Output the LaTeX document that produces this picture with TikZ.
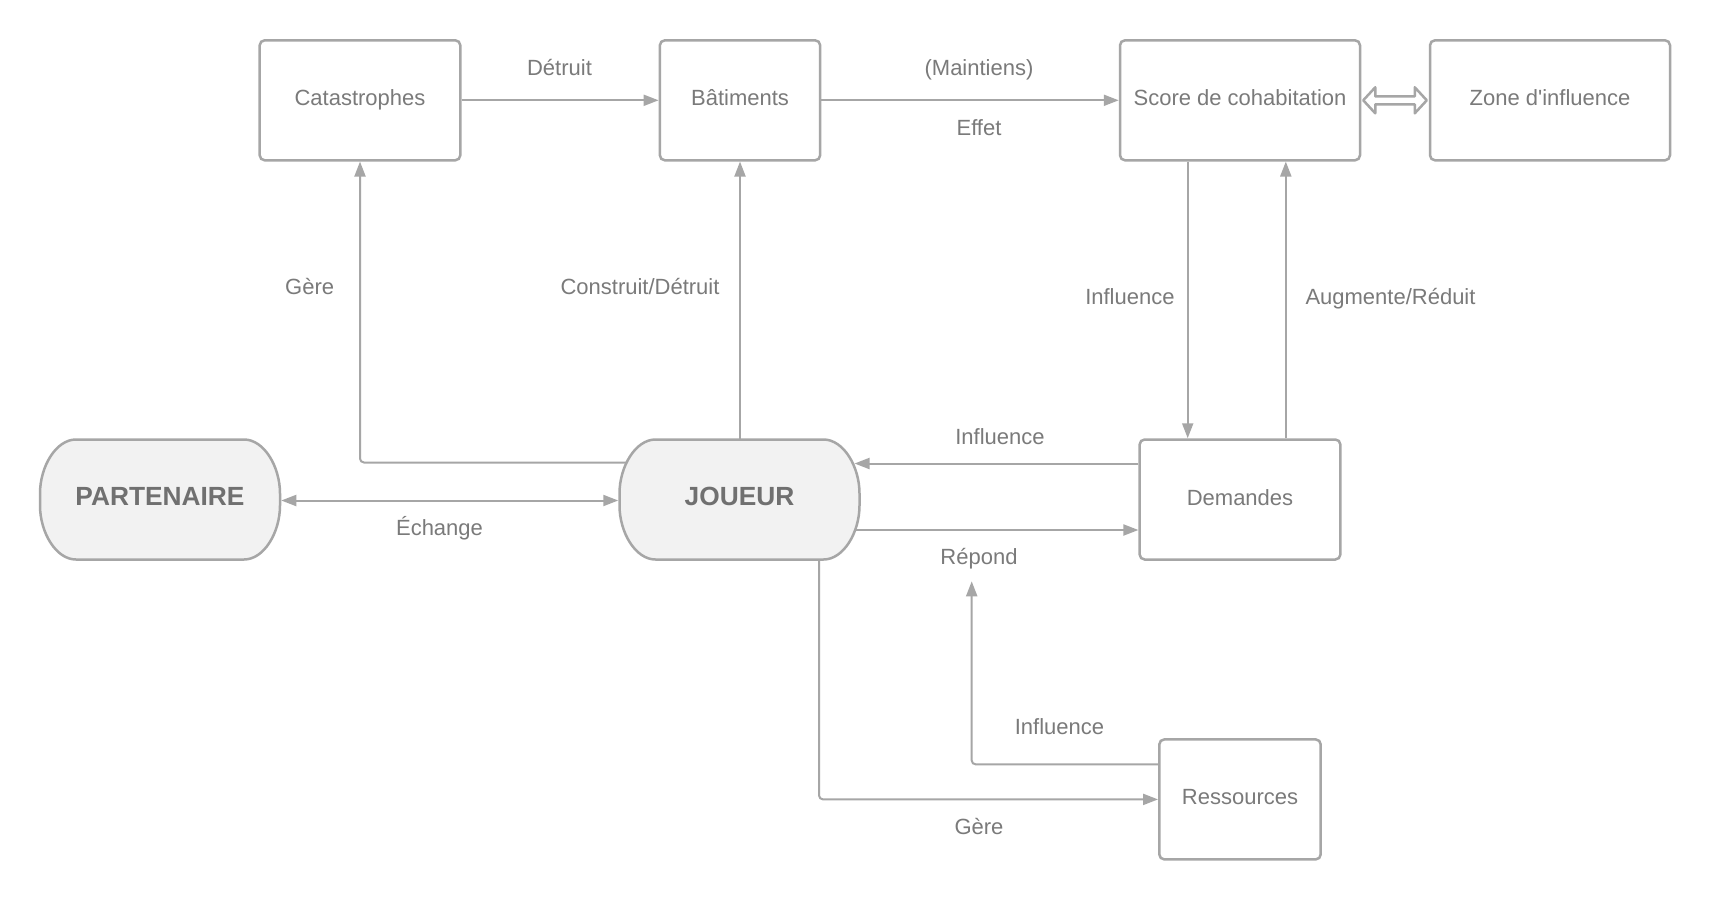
\documentclass[tikz,border=0pt]{standalone}
\usepackage{fontspec}
\setmainfont{Liberation Sans}[Ligatures=TeXOff]
\usetikzlibrary{arrows.meta,backgrounds,calc}
\definecolor{lgray}{HTML}{A6A6A6}
\definecolor{tgray}{HTML}{7A7A7A}
\definecolor{bgray}{HTML}{707070}
\definecolor{fillg}{HTML}{F2F2F2}
\newcommand\termshape[2]{%
  \path[draw=lgray, line width=2.5pt, fill=fillg]
    (#1-84,#2-60) -- (#1+84,#2-60)
    .. controls (#1+104,#2-60) and (#1+120,#2-33) .. (#1+120,#2-6)
    -- (#1+120,#2+6)
    .. controls (#1+120,#2+33) and (#1+104,#2+60) .. (#1+84,#2+60)
    -- (#1-84,#2+60)
    .. controls (#1-104,#2+60) and (#1-120,#2+33) .. (#1-120,#2+6)
    -- (#1-120,#2-6)
    .. controls (#1-120,#2-33) and (#1-104,#2-60) .. (#1-84,#2-60) -- cycle;}
\begin{document}
\begin{tikzpicture}[x=1pt,y=-1pt,
  box/.style={draw=lgray, line width=2.5pt, rounded corners=5pt, fill=white,
    minimum height=120pt, text=tgray, font=\fontsize{22}{26}\selectfont, inner sep=0pt,
    text height=16pt, text depth=5pt},
  term/.style={minimum width=240pt, minimum height=120pt, text=bgray,
    font=\bfseries\fontsize{26.3}{30}\selectfont, inner sep=0pt, yshift=3pt},
  conn/.style={draw=lgray, line width=2pt, -{Triangle[length=15pt,width=11pt]}, rounded corners=4pt},
  lbl/.style={text=tgray, font=\fontsize{22}{26}\selectfont, inner sep=0pt,
    text height=16pt, text depth=5pt, yshift=-2.5pt}]
\useasboundingbox (0,0) rectangle (1710,900);

% nodes
\node[box, minimum width=200.6pt] (cat) at (360,100.3) {Catastrophes};
\node[box, minimum width=160.3pt] (bat) at (740,100.3) {Bâtiments};
\node[box, minimum width=240pt] (score) at (1240,100.3) {Score de cohabitation};
\node[box, minimum width=240pt] (zone) at (1550,100.3) {Zone d'influence};
\node[box, minimum width=200.7pt] (dem) at (1240,499.5) {Demandes};
\node[box, minimum width=161.4pt] (res) at (1240,799.4) {Ressources};
\termshape{160}{499.5}
\termshape{739.5}{499.5}
\node[term] (p) at (160,499.5) {PARTENAIRE};
\node[term] (j) at (739.5,499.5) {JOUEUR};
\coordinate (pc) at (160,499.5);
\coordinate (jc) at (739.5,499.5);
\coordinate (rp) at (971.7,581.3);

% labels
\node[lbl] at (559.5,67.6) {Détruit};
\node[lbl] at (979,67.6) {(Maintiens)};
\node[lbl] at (979,127.6) {Effet};
\node[lbl] at (309.7,286.8) {Gère};
\node[lbl] at (640,286.8) {Construit/Détruit};
\node[lbl] at (1129.9,296.6) {Influence};
\node[lbl] at (1390.5,296.6) {Augmente/Réduit};
\node[lbl] at (1000,436.2) {Influence};
\node[lbl] at (439.5,527.8) {Échange};
\node[lbl] at (979,556.2) {Répond};
\node[lbl] at (1059.5,726.3) {Influence};
\node[lbl] at (979,826.7) {Gère};

% double block arrow
\draw[lgray, line width=2.5pt, fill=white, line join=round]
  ($(score.east)+(2,0)$) -- ++(12,-13) -- ++(0,9) -- ($(zone.west)+(-14,-4)$)
  -- ++(0,-9) -- ($(zone.west)+(-2,0)$) -- ++(-12,13) -- ++(0,-9)
  -- ($(score.east)+(14,4)$) -- ++(0,9) -- cycle;

\begin{pgfonlayer}{background}
\fill[white] (0,0) rectangle (1710,900);
\draw[conn] (cat) -- (bat);
\draw[conn] (bat) -- (score);
\draw[conn] ($(jc)+(-60,-37)$) -| (cat.south);
\draw[conn] (bat.south |- 0,439.5) -- (bat.south);
\draw[conn, {Triangle[length=15pt,width=11pt]}-{Triangle[length=15pt,width=11pt]}] ($(pc)+(121.25,1)$) -- ($(jc)+(-121.25,1)$);
\draw[conn] ($(score.south)+(-52.3,0)$) -- ($(dem.north)+(-52.3,0)$);
\draw[conn] ($(dem.north)+(45.8,0)$) -- ($(score.south)+(45.8,0)$);
\draw[conn] ($(dem.west)+(0,-36)$) -- ($(jc)+(115,-36)$);
\draw[conn] ($(jc)+(100,30.5)$) -- ($(dem.west)+(0,30.5)$);
\draw[conn] ($(jc)+(79.5,0)$) |- (res.west);
\draw[conn] ($(res.west)+(0,-35)$) -| (rp);
\end{pgfonlayer}
\end{tikzpicture}
\end{document}
